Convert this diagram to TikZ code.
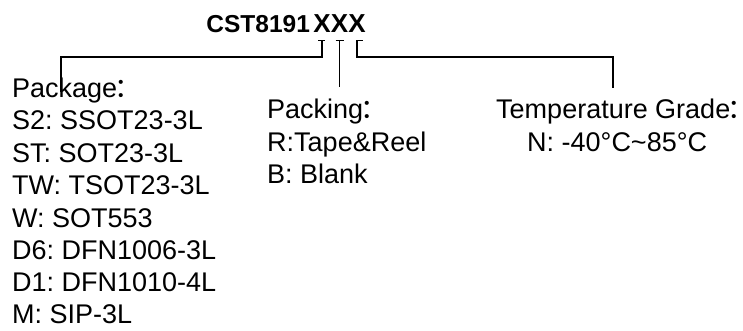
\documentclass[tikz,border=0pt]{standalone}
\usepackage{fontspec}
\setmainfont{Liberation Sans}
\newfontfamily\cjk{Noto Sans CJK SC}
\usepackage{tikz}
\usetikzlibrary{calc}
\frenchspacing
\newcommand{\fcolon}{\hspace{-2.5pt}\makebox[0.3em][l]{\cjk ：}}
\tikzstyle{wire} = [
    line width=1.3pt,
    draw=black
]
\tikzstyle{entry} = [
    inner sep=0pt,
    anchor=base west,
    font=\fontsize{27}{32}\selectfont
]
\tikzstyle{code} = [
    inner sep=0pt,
    font=\fontsize{24.5}{30}\selectfont\bfseries
]
\begin{document}
\begin{tikzpicture}[x=1pt, y=-1pt]
    \useasboundingbox (0,0) rectangle (743,331);
    % part number
    \node[code, anchor=base, font=\fontsize{26}{30}\selectfont\bfseries] (x1) at (322,33) {X};
    \node[code, anchor=base, font=\fontsize{26}{30}\selectfont\bfseries] (x2) at (339.5,33) {X};
    \node[code, anchor=base, font=\fontsize{26}{30}\selectfont\bfseries] (x3) at (357,33) {X};
    \node[code, anchor=base east] (part) at ([xshift=-3pt]x1.base west) {CST8191};
    % field marks
    \coordinate (k1) at ([yshift=-7pt]x1.south);
    \coordinate (k2) at ([yshift=-7pt]x2.south);
    \coordinate (k3) at ([yshift=-7pt]x3.south);
    \draw[wire] ([xshift=-4pt]k1) -- ([xshift=3pt]k1);
    \draw[wire] ([xshift=-4pt]k2) -- ([xshift=4pt]k2);
    \draw[wire] ([xshift=-1pt]k3) -- ([xshift=6pt]k3);
    % package
    \node[entry] (pkg0) at (12,98)  {Package\fcolon};
    \node[entry] (pkg1) at (12,130) {S2: SSOT23-3L};
    \node[entry] (pkg2) at (12,162) {ST: SOT23-3L};
    \node[entry] (pkg3) at (12,194) {TW: TSOT23-3L};
    \node[entry] (pkg4) at (12,227) {W: SOT553};
    \node[entry] (pkg5) at (12,259) {D6: DFN1006-3L};
    \node[entry] (pkg6) at (12,291) {D1: DFN1010-4L};
    \node[entry] (pkg7) at (12,323) {M: SIP-3L};
    % packing
    \node[entry] (pck0) at (267,119)   {Packing\fcolon};
    \node[entry] (pck1) at (267,151.5) {R:Tape\&Reel};
    \node[entry] (pck2) at (267,183)   {B: Blank};
    % temperature
    \node[entry] (tmp0) at (496,119)   {Temperature Grade\fcolon};
    \node[entry] (tmp1) at (527,151.5) {N: -40°C\textasciitilde85°C};
    % connectors
    \coordinate (bus) at (0,57);
    \coordinate (pkgend) at (61,92);
    \coordinate (pckend) at (340,87);
    \coordinate (tmpend) at (613,88);
    \draw[wire] (k1) -- (k1 |- bus) -| (pkgend);
    \draw[wire] (k2) -- (k2 |- pckend);
    \draw[wire] (k3) -- (k3 |- bus) -| (tmpend);
\end{tikzpicture}
\end{document}
